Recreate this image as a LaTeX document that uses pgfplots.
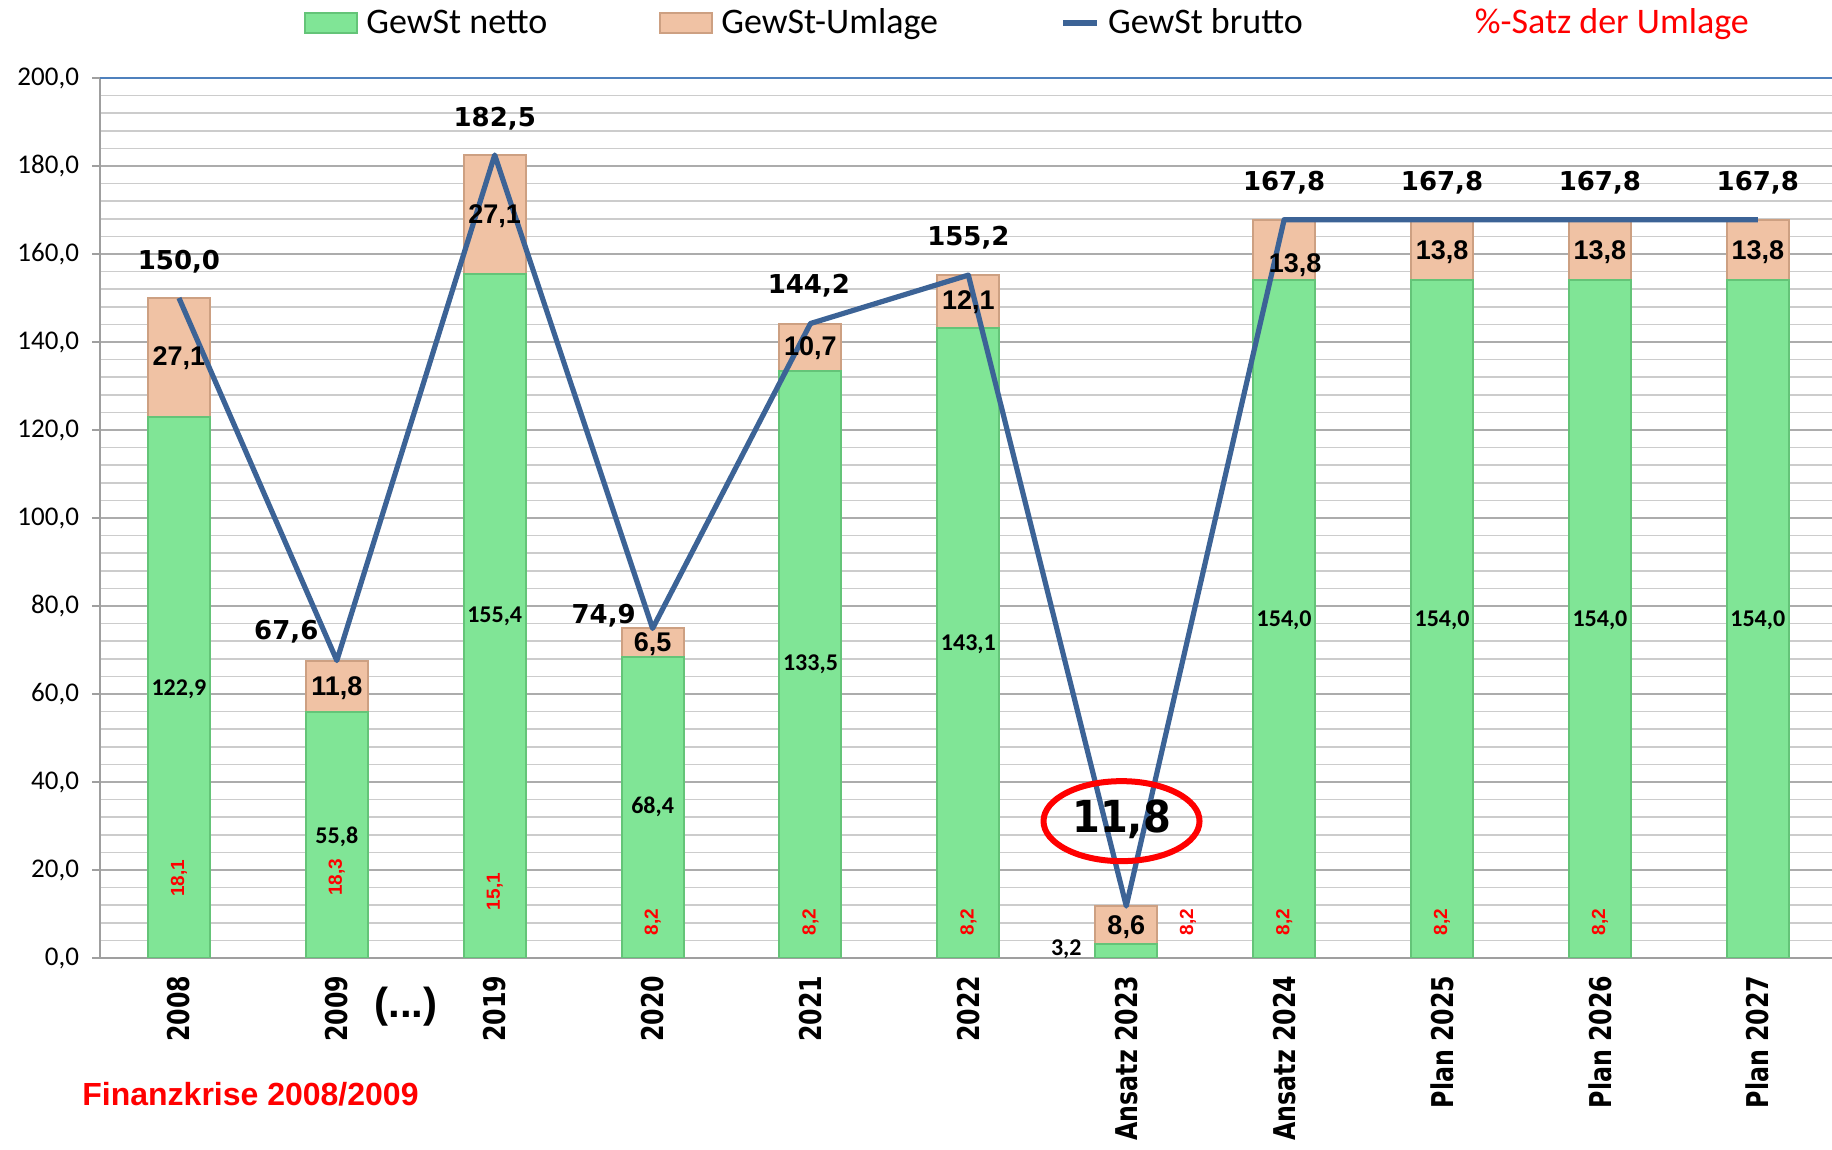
\documentclass[border=0pt]{standalone}
\usepackage{fontspec}
\setmainfont{Carlito}
\newfontfamily\lsans{Liberation Sans}
\newfontfamily\dvsans{DejaVu Sans}
\usepackage{pgfplots}
\pgfplotsset{compat=1.18}
\definecolor{netgreen}{RGB}{128,229,150}
\definecolor{netedge}{RGB}{100,196,120}
\definecolor{umlpeach}{RGB}{240,194,164}
\definecolor{umledge}{RGB}{205,160,130}
\definecolor{lineblue}{RGB}{60,99,150}
\definecolor{topblue}{RGB}{79,129,189}
\pgfplotsset{
 boxlegend/.style={legend image code/.code={\draw[##1] (0pt,-5pt) rectangle (26pt,5pt);}},
 linelegend/.style={legend image code/.code={\draw[##1] (0pt,0pt) -- (17pt,0pt);}},
}
\begin{document}
\begin{tikzpicture}
\path[use as bounding box] (0,0) rectangle (916pt,575pt);
\begin{axis}[
 at={(50pt,96pt)}, anchor=south west,
 scale only axis, width=866pt, height=440pt,
 xmin=-0.5, xmax=10.47, ymin=0, ymax=200,
 ybar stacked, bar width=31pt,
 axis x line*=bottom, axis y line*=left,
 axis line style={draw=gray!75, line width=1pt},
 tick align=outside,
 xtick={0,...,10},
 xticklabels={2008,2009,2019,2020,2021,2022,Ansatz 2023,Ansatz 2024,Plan 2025,Plan 2026,Plan 2027},
 xticklabel style={rotate=90, xscale=0.79, anchor=east, inner xsep=6pt, inner ysep=0pt, font=\dvsans\bfseries\fontsize{15}{17}\selectfont},
 xtick style={draw=none},
 extra x ticks={-0.5,0.5,1.5,2.5,3.5,4.5,5.5,6.5,7.5,8.5,9.5},
 extra x tick labels={},
 extra x tick style={tick style={draw=gray!75, line width=1pt}, major tick length=6pt},
 ytick={0,20,...,200},
 minor y tick num=4,
 ymajorgrids, yminorgrids,
 major grid style={draw=gray!65, line width=1pt},
 minor grid style={draw=gray!40, line width=0.8pt},
 ytick style={draw=gray!75, line width=1pt},
 major tick length=4pt, minor tick length=0pt,
 yticklabel style={font=\fontsize{13.5}{15}\selectfont, xshift=-3pt, /pgf/number format/.cd, fixed, fixed zerofill, precision=1, use comma, assume math mode=true},
 legend style={at={(0.1178,1.0625)}, anchor=west, draw=none, fill=none, inner sep=0pt,
   legend columns=4, font=\fontsize{18}{21}\selectfont,
   /tikz/every odd column/.style={column sep=2pt},
   /tikz/column 2/.style={column sep=54pt},
   /tikz/column 4/.style={column sep=59pt},
   /tikz/column 6/.style={column sep=80pt}},
]
\addplot[fill=netgreen, draw=netedge, line width=1pt, boxlegend]
  coordinates {(0,122.9) (1,55.8) (2,155.4) (3,68.4) (4,133.5) (5,143.1) (6,3.2) (7,154.0) (8,154.0) (9,154.0) (10,154.0)};
\addlegendentry{GewSt netto}
\addplot[fill=umlpeach, draw=umledge, line width=1pt, boxlegend]
  coordinates {(0,27.1) (1,11.8) (2,27.1) (3,6.5) (4,10.7) (5,12.1) (6,8.6) (7,13.8) (8,13.8) (9,13.8) (10,13.8)};
\addlegendentry{GewSt-Umlage}
\addlegendimage{draw=lineblue, line width=3pt, linelegend}
\addlegendentry{GewSt brutto}
\addlegendimage{empty legend}
\addlegendentry{\textcolor{red}{\%-Satz der Umlage}}
\end{axis}

\begin{axis}[
 at={(50pt,96pt)}, anchor=south west,
 scale only axis, width=866pt, height=440pt,
 xmin=-0.5, xmax=10.47, ymin=0, ymax=200,
 hide axis, clip=false,
]
\draw[draw=topblue, line width=1.2pt] (rel axis cs:0,1) -- (rel axis cs:1,1);
\addplot[draw=lineblue, line width=2.6pt, line join=round, mark=none]
  coordinates {(0,150.0) (1,67.6) (2,182.5) (3,74.9) (4,144.2) (5,155.2) (6,11.8) (7,167.8) (8,167.8) (9,167.8) (10,167.8)};
% brutto labels
\addplot[draw=none, mark=none, nodes near coords, point meta=explicit symbolic,
  every node near coord/.append style={anchor=center, text=black, inner sep=0pt, font=\dvsans\bfseries\fontsize{13}{15}\selectfont}]
  table[meta=t] {
x y t
0 158.3 150,0
0.68 74.1 67,6
2 190.7 182,5
2.69 77.8 74,9
3.99 152.7 144,2
5 163.6 155,2
7 176.1 167,8
8 176.1 167,8
9 176.1 167,8
10 176.1 167,8
};
% netto labels
\addplot[draw=none, mark=none, nodes near coords, point meta=explicit symbolic,
  every node near coord/.append style={anchor=center, text=black, inner sep=0pt, font=\bfseries\fontsize{12}{14}\selectfont}]
  table[meta=t] {
x y t
0 61.1 122,9
1 27.6 55,8
2 77.6 155,4
3 34.3 68,4
4 66.7 133,5
5 71.4 143,1
5.62 1.9 3,2
7 76.8 154,0
8 76.8 154,0
9 76.8 154,0
10 76.8 154,0
};
% Umlage labels
\addplot[draw=none, mark=none, nodes near coords, point meta=explicit symbolic,
  every node near coord/.append style={anchor=center, text=black, inner sep=0pt, font=\lsans\bfseries\fontsize{13.5}{15}\selectfont}]
  table[meta=t] {
x y t
0 136.3 27,1
1 61.4 11,8
2 168.7 27,1
3 71.4 6,5
4 138.6 10,7
5 149.0 12,1
6 7.0 8,6
7.07 157.5 13,8
8 160.4 13,8
9 160.4 13,8
10 160.4 13,8
};
% percentage labels
\addplot[draw=none, mark=none, nodes near coords, point meta=explicit symbolic,
  every node near coord/.append style={anchor=center, rotate=90, text=red, inner sep=0pt, font=\lsans\bfseries\fontsize{9.5}{10}\selectfont}]
  table[meta=t] {
x y t
0 18.1 18,1
1 18.3 18,3
2 15.1 15,1
3 8.2 8,2
4 8.2 8,2
5 8.2 8,2
6.39 8.2 8,2
7 8.2 8,2
8 8.2 8,2
9 8.2 8,2
};
\draw[red, line width=3pt] (axis cs:5.97,31.1) ellipse [x radius=39pt, y radius=20pt];
\node[font=\dvsans\bfseries\fontsize{20}{22}\selectfont, inner sep=0pt, yscale=1.1] at (axis cs:5.97,31.6) {11,8};
\end{axis}
\node[font=\lsans\bfseries\fontsize{21}{24}\selectfont, inner sep=0pt] at (203pt,71.5pt) {(...)};
\node[font=\lsans\bfseries\fontsize{16}{19}\selectfont, text=red, anchor=west, inner sep=0pt] at (41pt,28pt) {Finanzkrise 2008/2009};
\end{tikzpicture}
\end{document}
